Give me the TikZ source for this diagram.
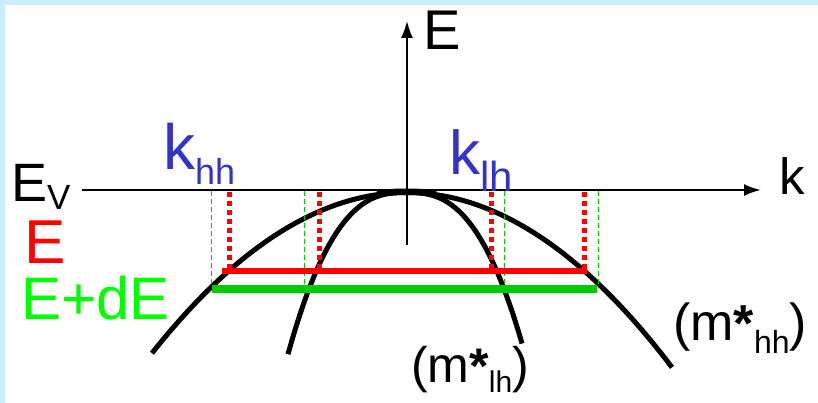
\documentclass[tikz,border=0pt]{standalone}
\usepackage{fontspec}
\setmainfont{Liberation Sans}
\definecolor{frameblue}{RGB}{204,236,255}
\definecolor{labelblue}{RGB}{51,51,204}
\definecolor{brightgreen}{RGB}{0,255,0}
\definecolor{levelgreen}{RGB}{0,204,0}
\usetikzlibrary{arrows.meta,positioning}

\newcommand{\fs}[1]{\fontsize{#1}{#1}\selectfont}

\begin{document}
\begin{tikzpicture}[x=1pt, y=-1pt,
    band/.style={line width=5pt},
    axisline/.style={line width=2.2pt, -{Latex[length=17pt,width=12pt]}},
    redtick/.style={red, line width=5pt, dash pattern=on 5pt off 4pt},
    greentick/.style={levelgreen, line width=1pt, dash pattern=on 5pt off 3pt},
    lbl/.style={inner sep=0pt, anchor=base west}]
  % frame
  \fill[frameblue] (0,0) rectangle (818,403);
  \fill[white] (5,5) rectangle (818,403);
  \useasboundingbox (0,0) rectangle (818,403);

  % axes
  \coordinate (kstart) at (82,190);
  \coordinate (kend) at (761,190);
  \coordinate (estart) at (407,245);
  \coordinate (eend) at (407,21);
  \draw[axisline] (kstart) -- (kend);
  \draw[axisline, line width=1.8pt] (estart) -- (eend);

  % heavy and light hole bands
  \draw[band] plot[domain=-254.5:265.5, samples=80] ({406.5+\x}, {192.5+(0.0498*\x)*(0.0498*\x)});
  \draw[band] plot[domain=-118.5:115.5, samples=61, smooth] ({406.5+\x}, {192.5+78*pow(abs(\x)/90,2.65)});
  \fill (406.5,191.5) ellipse (30pt and 3pt);

  % projections onto k
  \foreach \xg in {211,304,504,598}
    \draw[greentick] (\xg,191) -- (\xg,286);
  \foreach \xr in {229,319,491,584}
    \draw[redtick] (\xr,192) -- (\xr,268);

  % energy levels
  \draw[red, line width=6pt] (222,271) -- (587,271);
  \draw[levelgreen, line width=8pt] (212,289) -- (597,289);

  % labels
  \node[lbl, font=\fs{54}] (ev) at (11,202) {E\raisebox{-8pt}{\fs{35}V}};
  \node[lbl, font=\fs{56}] (elabel) at (423,50) {E};
  \node[lbl, font=\fs{51}] (klabel) at (779,195) {k};
  \node[lbl, font=\fs{64}, text=labelblue] (khh) at (163,170) {k\raisebox{-15pt}{\fs{36}hh}};
  \node[lbl, font=\fs{62}, text=labelblue] (klh) at (449,175) {k\raisebox{-17pt}{\fs{42}lh}};
  \node[lbl, font=\fs{62}, text=red] (elevel) at (24,263) {E};
  \node[lbl, font=\fs{60}, text=brightgreen] (edelevel) at (21,319) {E+dE};
  \node[lbl, font=\fs{50}] (mlh) at (411,382) {(m\raisebox{-1pt}{\bfseries *}\raisebox{-10pt}{\fs{30}lh})};
  \node[lbl, font=\fs{52}] (mhh) at (673,340) {(m\raisebox{-1pt}{\bfseries *}\raisebox{-13pt}{\fs{32}hh})};
\end{tikzpicture}
\end{document}
